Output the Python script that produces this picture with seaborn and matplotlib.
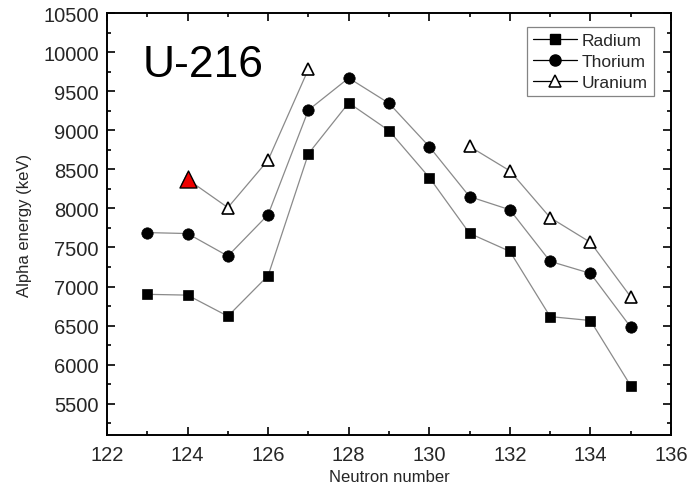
import numpy as np
import pandas as pd
import matplotlib
matplotlib.use("Agg")
import matplotlib.pyplot as plt
from matplotlib.lines import Line2D
from matplotlib.ticker import MultipleLocator
import seaborn as sns

# ---- data ----
neutron = [123, 124, 125, 126, 127, 128, 129, 130, 131, 132, 133, 134, 135]
radium = [6900, 6890, 6620, 7140, 8700, 9350, 8995, 8395, 7680, 7450, 6615, 6565, 5730]
thorium = [7690, 7678, 7390, 7920, 9258, 9668, 9345, 8790, 8150, 7982, 7322, 7168, 6480]
uranium_n = [124, 125, 126, 127, 131, 132, 133, 134, 135]
uranium = [8372, 8010, 8618, 9782, 8793, 8480, 7882, 7565, 6868]
uranium_seg = [0, 0, 0, 0, 1, 1, 1, 1, 1]
highlight_n = [124]
highlight_e = [8372]
series_names = ["Radium", "Thorium", "Uranium"]
annotation = "U-216"

sns.set_theme(style="white")
plt.rcParams["font.family"] = ["Liberation Sans", "DejaVu Sans"]

fig = plt.figure(figsize=(6.93, 4.89), dpi=100)
ax = fig.add_axes([107 / 693, 1 - 436 / 489, (671 - 107) / 693, (436 - 14) / 489])

line_col = "#8a8a8a"
lw = 0.9

sns.lineplot(x=neutron, y=radium, ax=ax, color=line_col, lw=lw, marker="s",
             markersize=7.3, markerfacecolor="black", markeredgecolor="black",
             markeredgewidth=0.5, zorder=3)
sns.lineplot(x=neutron, y=thorium, ax=ax, color=line_col, lw=lw, marker="o",
             markersize=8.2, markerfacecolor="black", markeredgecolor="black",
             markeredgewidth=0.5, zorder=3)
df_u = pd.DataFrame({"n": uranium_n, "e": uranium, "seg": uranium_seg})
sns.lineplot(data=df_u, x="n", y="e", units="seg", estimator=None, ax=ax,
             color=line_col, lw=lw, marker="^", markersize=8.6,
             markerfacecolor="white", markeredgecolor="black",
             markeredgewidth=1.2, zorder=3)
sns.scatterplot(x=highlight_n, y=highlight_e, ax=ax, marker="^", s=150,
                color="#ee0000", edgecolor="black", linewidth=1.0, zorder=5)

ax.set_xlim(122, 136)
ax.set_ylim(5100, 10500)
ax.xaxis.set_major_locator(MultipleLocator(2))
ax.xaxis.set_minor_locator(MultipleLocator(1))
ax.yaxis.set_major_locator(MultipleLocator(500))
ax.yaxis.set_minor_locator(MultipleLocator(250))
ax.tick_params(which="both", direction="in", top=True, right=True,
               bottom=True, left=True, color="black", width=1.2)
ax.tick_params(which="major", length=6, labelsize=14.5)
ax.tick_params(axis="y", which="major", pad=6)
ax.tick_params(axis="x", which="major", pad=7)
ax.tick_params(which="minor", length=3)
for s in ax.spines.values():
    s.set_visible(True)
    s.set_color("black")
    s.set_linewidth(1.4)

ax.set_xlabel("Neutron number", fontsize=12, labelpad=4)
ax.set_ylabel("Alpha energy (keV)", fontsize=12, labelpad=8)

ax.text(0.064, 0.878, annotation, transform=ax.transAxes, fontsize=32,
        ha="left", va="center", color="black")

handles = [
    Line2D([], [], color="black", lw=0.9, marker="s", markersize=7,
           markerfacecolor="black", markeredgecolor="black"),
    Line2D([], [], color="black", lw=0.9, marker="o", markersize=8,
           markerfacecolor="black", markeredgecolor="black"),
    Line2D([], [], color="black", lw=0.9, marker="^", markersize=8.5,
           markerfacecolor="white", markeredgecolor="black", markeredgewidth=1.1),
]
leg = ax.legend(handles, series_names, loc="upper right", fontsize=12.5,
                frameon=True, fancybox=False, edgecolor="#666666",
                bbox_to_anchor=(0.97, 0.968), handlelength=2.5,
                handletextpad=0.3, borderpad=0.35, labelspacing=0.35,
                borderaxespad=0.0)
leg.get_frame().set_linewidth(0.9)

fig.savefig("out.png", dpi=100)
